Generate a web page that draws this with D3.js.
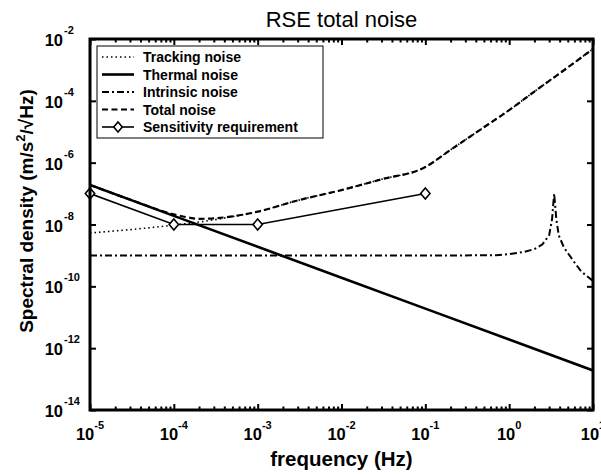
<!DOCTYPE html>
<html>
<head>
<meta charset="utf-8">
<script src="https://cdn.jsdelivr.net/npm/d3@7"></script>
<style>
  body { margin: 0; background: #fff; }
  text { font-family: "Liberation Sans", Arial, Helvetica, sans-serif; fill: #000; }
</style>
</head>
<body>
<svg id="chart" width="601" height="476"></svg>
<script>
/* Chart data */
var thermalFreq = [1e-5, 1e-4, 1e-3, 1e-2, 1e-1, 1, 10];
var thermalVal = [1.9e-7, 1.9e-8, 1.9e-9, 1.9e-10, 1.9e-11, 1.9e-12, 1.9e-13];

var trackingFreq = [1e-5, 2e-5, 5e-5, 1e-4, 2e-4, 5e-4, 1e-3, 3e-3, 1e-2, 3e-2, 0.1, 0.2, 0.5, 1, 2, 5, 10];
var trackingVal = [5.3e-9, 6.2e-9, 7.8e-9, 9.6e-9, 1.2e-8, 1.8e-8, 2.6e-8, 6e-8, 1.3e-7, 2.9e-7, 7.2e-7, 2.6e-6, 1.4e-5, 5e-5, 2e-4, 1.2e-3, 4.8e-3];

var intrinsicFreq = [1e-5, 1e-3, 0.1, 0.3, 0.7, 1, 1.5, 2, 2.5, 3, 3.25, 3.44, 3.65, 3.9, 4.5, 5, 6, 7, 8, 10];
var intrinsicVal = [1e-9, 1e-9, 1e-9, 1e-9, 1.02e-9, 1.1e-9, 1.3e-9, 1.6e-9, 2.3e-9, 4.5e-9, 1.5e-8, 1e-7, 1.5e-8, 4.5e-9, 1.8e-9, 1.2e-9, 6e-10, 3.4e-10, 2.4e-10, 1.5e-10];

var totalFreq = [1e-5, 3e-5, 1e-4, 1.5e-4, 2e-4, 3e-4, 5e-4, 1e-3, 3e-3, 1e-2, 3e-2, 0.1, 0.2, 0.5, 1, 2, 5, 10];
var totalVal = [1.9e-7, 6.4e-8, 2.13e-8, 1.68e-8, 1.53e-8, 1.58e-8, 1.84e-8, 2.6e-8, 6e-8, 1.3e-7, 2.9e-7, 7.2e-7, 2.6e-6, 1.4e-5, 5e-5, 2e-4, 1.2e-3, 4.8e-3];

var sensFreq = [1e-5, 1e-4, 1e-3, 1e-1];
var sensVal = [1e-7, 1e-8, 1e-8, 1e-7];

var xMajor = [1e-5, 1e-4, 1e-3, 1e-2, 1e-1, 1, 10];
var xExp = ["-5", "-4", "-3", "-2", "-1", "0", "1"];
var yMajor = [1e-14, 1e-12, 1e-10, 1e-8, 1e-6, 1e-4, 1e-2];
var yExp = ["-14", "-12", "-10", "-8", "-6", "-4", "-2"];

var legendNames = ["Tracking noise", "Thermal noise", "Intrinsic noise", "Total noise", "Sensitivity requirement"];

/* Plot area */
var plotLeft = 90, plotRight = 593, plotTop = 39, plotBottom = 410;

var svg = d3.select("#chart");

var x = d3.scaleLog().domain([1e-5, 10]).range([plotLeft, plotRight]);
var y = d3.scaleLog().domain([1e-14, 1e-2]).range([plotBottom, plotTop]);

/* Minor ticks on the frequency axis: 2..9 in each decade */
var xMinor = [];
xMajor.slice(0, -1).forEach(function(d) {
	for (var k = 2; k <= 9; k++) xMinor.push(d * k);
});

svg.append("clipPath").attr("id", "plotClip")
	.append("rect")
	.attr("x", plotLeft).attr("y", plotTop)
	.attr("width", plotRight - plotLeft).attr("height", plotBottom - plotTop);

/* Styles for each series */
var styles = [
	{ width: 1.6, dash: "1.5,3", curve: d3.curveMonotoneX },
	{ width: 2.6, dash: null, curve: d3.curveLinear },
	{ width: 2, dash: "7,3,2,3", curve: d3.curveLinear },
	{ width: 2.2, dash: "6,3.5", curve: d3.curveMonotoneX },
	{ width: 1.6, dash: null, curve: d3.curveLinear }
];

var series = [
	d3.zip(trackingFreq, trackingVal),
	d3.zip(thermalFreq, thermalVal),
	d3.zip(intrinsicFreq, intrinsicVal),
	d3.zip(totalFreq, totalVal),
	d3.zip(sensFreq, sensVal)
];

var plot = svg.append("g").attr("clip-path", "url(#plotClip)");

series.forEach(function(s, i) {
	var line = d3.line()
		.x(function(d) { return x(d[0]); })
		.y(function(d) { return y(d[1]); })
		.curve(styles[i].curve);
	plot.append("path")
		.datum(s)
		.attr("d", line)
		.attr("fill", "none")
		.attr("stroke", "#000")
		.attr("stroke-width", styles[i].width)
		.attr("stroke-dasharray", styles[i].dash);
});

/* Diamond markers */
function diamond(g, cx, cy, r) {
	g.append("path")
		.attr("d", "M" + cx + "," + (cy - r) + "L" + (cx + r * 0.85) + "," + cy +
			"L" + cx + "," + (cy + r) + "L" + (cx - r * 0.85) + "," + cy + "Z")
		.attr("fill", "#fff")
		.attr("stroke", "#000")
		.attr("stroke-width", 1.6);
}

series[4].forEach(function(d) {
	diamond(svg, x(d[0]), y(d[1]), 5.5);
});

/* Axes box */
svg.append("rect")
	.attr("x", plotLeft).attr("y", plotTop)
	.attr("width", plotRight - plotLeft).attr("height", plotBottom - plotTop)
	.attr("fill", "none")
	.attr("stroke", "#000")
	.attr("stroke-width", 3);

/* Ticks pointing inward, on all four sides */
function addTicks(axis, pos, vals, size) {
	svg.append("g")
		.attr("transform", pos)
		.call(axis.tickValues(vals).tickSize(size).tickSizeOuter(0).tickFormat(""))
		.call(function(g) {
			g.select(".domain").remove();
			g.selectAll(".tick line").attr("stroke", "#000").attr("stroke-width", 2);
		});
}

addTicks(d3.axisBottom(x), "translate(0," + plotBottom + ")", xMajor, -6);
addTicks(d3.axisBottom(x), "translate(0," + plotBottom + ")", xMinor, -3.5);
addTicks(d3.axisTop(x), "translate(0," + plotTop + ")", xMajor, -6);
addTicks(d3.axisTop(x), "translate(0," + plotTop + ")", xMinor, -3.5);
addTicks(d3.axisLeft(y), "translate(" + plotLeft + ",0)", yMajor, -6);
addTicks(d3.axisRight(y), "translate(" + plotRight + ",0)", yMajor, -6);

/* Tick labels as 10 with a raised exponent */
xMajor.forEach(function(d, i) {
	var t = svg.append("text")
		.attr("x", x(d))
		.attr("y", 440)
		.attr("text-anchor", "middle")
		.attr("font-weight", "bold")
		.attr("font-size", 16.5);
	t.append("tspan").text("10");
	t.append("tspan").attr("dy", -11).attr("font-size", 11).text(xExp[i]);
});

yMajor.forEach(function(d, i) {
	svg.append("text")
		.attr("x", 63)
		.attr("y", y(d) + 7)
		.attr("text-anchor", "end")
		.attr("font-weight", "bold")
		.attr("font-size", 16.5)
		.text("10");
	svg.append("text")
		.attr("x", 64)
		.attr("y", y(d) - 5)
		.attr("font-weight", "bold")
		.attr("font-size", 11)
		.text(yExp[i]);
});

/* Title and axis labels */
svg.append("text")
	.attr("x", (plotLeft + plotRight) / 2)
	.attr("y", 27)
	.attr("text-anchor", "middle")
	.attr("font-size", 22)
	.text("RSE total noise");

svg.append("text")
	.attr("x", (plotLeft + plotRight) / 2)
	.attr("y", 466)
	.attr("text-anchor", "middle")
	.attr("font-weight", "bold")
	.attr("font-size", 20.5)
	.text("frequency (Hz)");

var yl = svg.append("text")
	.attr("transform", "translate(33,211) rotate(-90)")
	.attr("text-anchor", "middle")
	.attr("font-weight", "bold")
	.attr("font-size", 19);
yl.append("tspan").text("Spectral density (m/s");
yl.append("tspan").attr("dy", -8).attr("font-size", 13).text("2");
yl.append("tspan").attr("dy", 8).text("/\u221AHz)");

/* Legend */
var legend = svg.append("g");
legend.append("rect")
	.attr("x", 97).attr("y", 46)
	.attr("width", 226).attr("height", 92)
	.attr("fill", "#fff")
	.attr("stroke", "#000")
	.attr("stroke-width", 1);

legendNames.forEach(function(name, i) {
	var ly = 57 + i * 17.5;
	legend.append("line")
		.attr("x1", 102).attr("x2", 134)
		.attr("y1", ly).attr("y2", ly)
		.attr("stroke", "#000")
		.attr("stroke-width", styles[i].width)
		.attr("stroke-dasharray", styles[i].dash);
	if (i == 4) diamond(legend, 118, ly, 5);
	legend.append("text")
		.attr("x", 143)
		.attr("y", ly + 5)
		.attr("font-weight", "bold")
		.attr("font-size", 14)
		.text(name);
});
</script>
</body>
</html>
